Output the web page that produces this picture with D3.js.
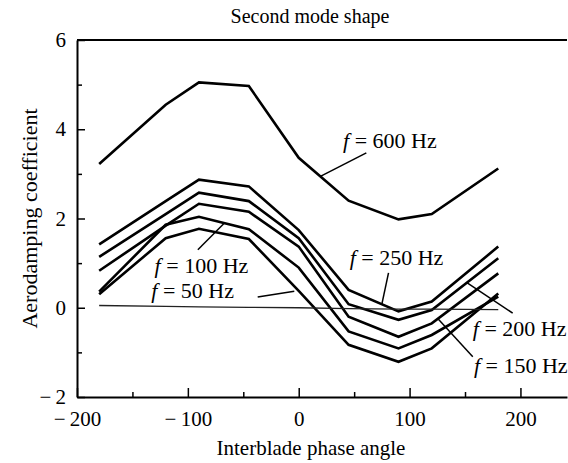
<!DOCTYPE html>
<html>
<head>
<meta charset="utf-8">
<script src="https://cdn.jsdelivr.net/npm/d3@7"></script>
<style>
  body { margin: 0; background: #fff; }
  svg { display: block; }
  svg text { font-family: "Liberation Serif", "Times New Roman", "DejaVu Serif", serif; }
</style>
</head>
<body>
<script>
// interblade phase angle (deg)
const phase = [-180, -120, -90, -45, 0, 45, 90, 120, 180];

// aerodamping coefficient per excitation frequency
const f600 = [3.22, 4.55, 5.05, 4.97, 3.36, 2.40, 1.98, 2.10, 3.12];
const f250 = [1.42, 2.39, 2.87, 2.72, 1.74, 0.40, -0.08, 0.14, 1.37];
const f200 = [1.14, 2.10, 2.58, 2.39, 1.56, 0.08, -0.27, -0.05, 1.11];
const f150 = [0.83, 1.84, 2.33, 2.15, 1.37, -0.20, -0.65, -0.35, 0.77];
const f100 = [0.36, 1.86, 2.04, 1.76, 0.90, -0.53, -0.91, -0.61, 0.25];
const f50  = [0.30, 1.56, 1.77, 1.54, 0.38, -0.83, -1.21, -0.91, 0.32];
const zeroRef = [0.05, 0.03, 0.02, 0.01, 0.00, -0.02, -0.03, -0.03, -0.04];

const xTicks = [-200, -100, 0, 100, 200];
const xMinor = [-150, -50, 50, 150];
const yTicks = [-2, 0, 2, 4, 6];
const yMinor = [-1, 1, 3, 5];

const width = 568;
const height = 463;
const plotLeft = 77, plotRight = 567, plotTop = 40, plotBottom = 397;
const serif = '"Liberation Serif", "Times New Roman", serif';

const svg = d3.select('body').append('svg')
    .attr('width', width)
    .attr('height', height);

const x = d3.scaleLinear().domain([-200, 242]).range([plotLeft, plotRight]);
const y = d3.scaleLinear().domain([-2, 6]).range([plotBottom, plotTop]);

const fmt = d => d < 0 ? '\u2212\u2009' + Math.abs(d) : String(d);

// minor ticks first (no labels)
svg.append('g')
    .attr('transform', `translate(0, ${plotBottom})`)
    .call(d3.axisBottom(x).tickValues(xMinor).tickSize(-5).tickFormat(''))
    .call(g => g.select('.domain').remove());
svg.append('g')
    .attr('transform', `translate(${plotLeft}, 0)`)
    .call(d3.axisLeft(y).tickValues(yMinor).tickSize(-5).tickFormat(''))
    .call(g => g.select('.domain').remove());

// x-axis
const xAxis = svg.append('g')
    .attr('transform', `translate(0, ${plotBottom})`)
    .call(d3.axisBottom(x).tickValues(xTicks).tickSizeInner(-9).tickSizeOuter(0)
        .tickPadding(14).tickFormat(fmt));
xAxis.attr('font-family', serif);
xAxis.selectAll('text').attr('font-size', 21).attr('fill', '#000');

// y-axis
const yAxis = svg.append('g')
    .attr('transform', `translate(${plotLeft}, 0)`)
    .call(d3.axisLeft(y).tickValues(yTicks).tickSizeInner(-8).tickSizeOuter(0)
        .tickPadding(11).tickFormat(fmt));
yAxis.attr('font-family', serif);
yAxis.selectAll('text').attr('font-size', 21).attr('fill', '#000');

svg.selectAll('.domain').attr('stroke-width', 2);
svg.selectAll('.tick line').attr('stroke-width', 1.5);

// top frame line
svg.append('line')
    .attr('x1', plotLeft).attr('x2', plotRight)
    .attr('y1', plotTop).attr('y2', plotTop)
    .attr('stroke', '#000').attr('stroke-width', 2);

// curves
const line = d3.line()
    .x((d, i) => x(phase[i]))
    .y(d => y(d));

[f600, f250, f200, f150, f100, f50].forEach(s => {
    svg.append('path')
        .datum(s)
        .attr('d', line)
        .attr('fill', 'none')
        .attr('stroke', '#000')
        .attr('stroke-width', 2.6)
        .attr('stroke-linejoin', 'miter');
});

svg.append('path')
    .datum(zeroRef)
    .attr('d', line)
    .attr('fill', 'none')
    .attr('stroke', '#222')
    .attr('stroke-width', 1.3);

// labels with leader lines (data units)
const notes = [
    {hz: 600, tx: 40, ty: 3.58, from: [61, 3.47], to: [20, 2.95]},
    {hz: 250, tx: 46, ty: 0.96, from: [81, 0.78], to: [75, 0.08]},
    {hz: 200, tx: 157, ty: -0.63, from: [193, -0.12], to: [152, 0.56]},
    {hz: 150, tx: 158, ty: -1.46, from: [157, -1.10], to: [126, -0.26]},
    {hz: 100, tx: -130, ty: 0.78, from: [-91, 1.30], to: [-67, 1.90]},
    {hz: 50, tx: -133, ty: 0.22, from: [-37, 0.24], to: [-4, 0.37]}
];

notes.forEach(n => {
    svg.append('line')
        .attr('x1', x(n.from[0])).attr('y1', y(n.from[1]))
        .attr('x2', x(n.to[0])).attr('y2', y(n.to[1]))
        .attr('stroke', '#000').attr('stroke-width', 1.5);
    const t = svg.append('text')
        .attr('x', x(n.tx)).attr('y', y(n.ty))
        .attr('font-size', 22);
    t.append('tspan').attr('font-style', 'italic').text('f');
    t.append('tspan').text(' = ' + n.hz + ' Hz');
});

// titles
svg.append('text')
    .attr('x', 310).attr('y', 23)
    .attr('text-anchor', 'middle')
    .attr('font-size', 20)
    .text('Second mode shape');

svg.append('text')
    .attr('x', 311).attr('y', 455)
    .attr('text-anchor', 'middle')
    .attr('font-size', 21)
    .text('Interblade phase angle');

svg.append('text')
    .attr('transform', `translate(37, ${(plotTop + plotBottom) / 2}) rotate(-90)`)
    .attr('text-anchor', 'middle')
    .attr('font-size', 22)
    .text('Aerodamping coefficient');
</script>
</body>
</html>
